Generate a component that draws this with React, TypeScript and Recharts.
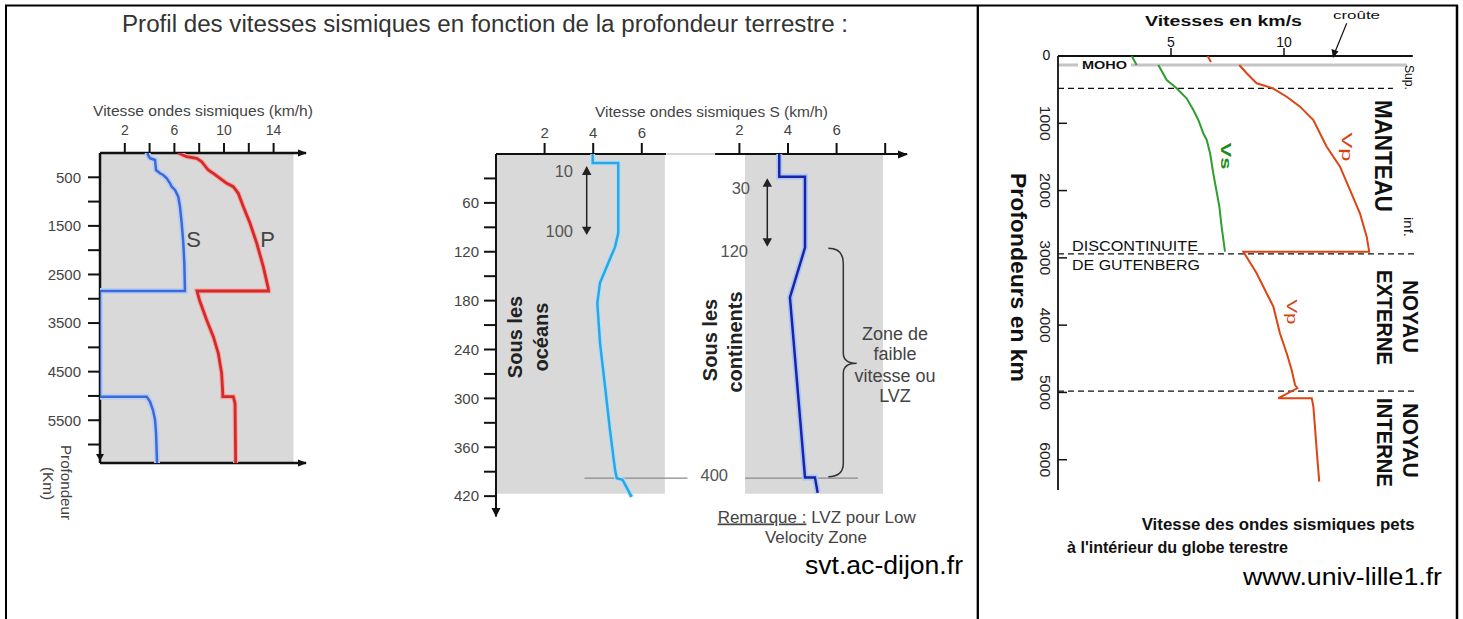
import React from 'react';
import { ScatterChart, Scatter, XAxis, YAxis, ReferenceArea, ReferenceLine } from 'recharts';

type Pt = { v: number; d: number };

// ---------- Chart 1 : profil global (svt.ac-dijon) ----------
const leftVelTicks = [2, 4, 6, 8, 10, 12, 14];
const leftVelLabels = [2, 6, 10, 14];
const leftDepthTicks = [500, 1000, 1500, 2000, 2500, 3000, 3500, 4000, 4500, 5000, 5500, 6000];
const leftDepthLabels = [500, 1500, 2500, 3500, 4500, 5500];
const leftS: Pt[] = [
  { v: 3.85, d: 0 }, { v: 3.85, d: 27 }, { v: 4.03, d: 109 }, { v: 4.44, d: 144 }, { v: 4.52, d: 350 },
  { v: 4.84, d: 418 }, { v: 5.1, d: 453 }, { v: 5.38, d: 521 }, { v: 5.65, d: 624 }, { v: 5.78, d: 694 },
  { v: 6.05, d: 761 }, { v: 6.31, d: 899 }, { v: 6.45, d: 1105 }, { v: 6.59, d: 1447 }, { v: 6.72, d: 1858 },
  { v: 6.8, d: 2270 }, { v: 6.85, d: 2820 }, { v: 6.85, d: 2840 }, { v: 0, d: 2840 }, { v: 0, d: 5015 },
  { v: 3.77, d: 5015 }, { v: 4.03, d: 5118 }, { v: 4.27, d: 5289 }, { v: 4.44, d: 5495 }, { v: 4.52, d: 5762 },
  { v: 4.6, d: 6380 },
];
const leftP: Pt[] = [
  { v: 6.31, d: 0 }, { v: 6.99, d: 76 }, { v: 7.8, d: 109 }, { v: 8.2, d: 179 }, { v: 8.73, d: 350 },
  { v: 9.14, d: 418 }, { v: 9.68, d: 521 }, { v: 10.22, d: 624 }, { v: 10.75, d: 694 }, { v: 11.15, d: 829 },
  { v: 11.56, d: 1105 }, { v: 12.1, d: 1447 }, { v: 12.64, d: 1858 }, { v: 13.17, d: 2340 }, { v: 13.57, d: 2785 },
  { v: 13.59, d: 2840 }, { v: 7.82, d: 2840 }, { v: 8.02, d: 3025 }, { v: 8.6, d: 3437 }, { v: 9.14, d: 3781 },
  { v: 9.54, d: 4122 }, { v: 9.81, d: 4534 }, { v: 9.9, d: 4945 }, { v: 9.9, d: 5015 }, { v: 10.75, d: 5015 },
  { v: 10.89, d: 5151 }, { v: 10.94, d: 6380 },
];

// ---------- Chart 2 : océans / continents ----------
const oceanVelTicks = [2, 4, 6];
const contVelTicks = [2, 4, 6, 8];
const contVelLabels = [2, 4, 6];
const lvzDepthTicks = [30, 60, 90, 120, 150, 180, 210, 240, 270, 300, 330, 360, 390, 420];
const lvzDepthLabels = [60, 120, 180, 240, 300, 360, 420];
const oceanS: Pt[] = [
  { v: 3.98, d: 0 }, { v: 3.98, d: 11 }, { v: 5.03, d: 11 }, { v: 5.03, d: 97 }, { v: 4.9, d: 114 },
  { v: 4.56, d: 138 }, { v: 4.28, d: 158 }, { v: 4.17, d: 183 }, { v: 4.28, d: 232 }, { v: 4.49, d: 286 },
  { v: 4.69, d: 339 }, { v: 4.9, d: 388 }, { v: 4.97, d: 398 }, { v: 5.21, d: 400 }, { v: 5.58, d: 421 },
];
const continentS: Pt[] = [
  { v: 3.64, d: 0 }, { v: 3.64, d: 28 }, { v: 4.7, d: 28 }, { v: 4.7, d: 115 }, { v: 4.08, d: 176 },
  { v: 4.7, d: 397 }, { v: 5.11, d: 397 }, { v: 5.22, d: 416 },
];
const lvzBase = 398;

// ---------- Chart 3 : univ-lille1 ----------
const rightVelTicks = [5, 10];
const rightDepthTicks = [0, 1000, 2000, 3000, 4000, 5000, 6000];
const rightVsCrust: Pt[] = [{ v: 3.26, d: 0 }, { v: 3.48, d: 134 }];
const rightVpCrust: Pt[] = [{ v: 6.62, d: 0 }, { v: 6.77, d: 89 }];
const rightVs: Pt[] = [
  { v: 4.44, d: 134 }, { v: 4.81, d: 357 }, { v: 5.25, d: 480 }, { v: 5.69, d: 629 }, { v: 5.99, d: 802 },
  { v: 6.21, d: 951 }, { v: 6.43, d: 1149 }, { v: 6.58, d: 1248 }, { v: 6.73, d: 1446 }, { v: 6.87, d: 1743 },
  { v: 7.14, d: 2239 }, { v: 7.24, d: 2536 }, { v: 7.39, d: 2908 },
];
const rightVp: Pt[] = [
  { v: 8.02, d: 134 }, { v: 8.35, d: 257 }, { v: 8.79, d: 406 }, { v: 9.51, d: 480 }, { v: 10.12, d: 605 },
  { v: 10.71, d: 753 }, { v: 11.3, d: 951 }, { v: 11.74, d: 1248 }, { v: 11.89, d: 1348 }, { v: 12.48, d: 1645 },
  { v: 12.92, d: 1991 }, { v: 13.36, d: 2337 }, { v: 13.66, d: 2685 }, { v: 13.77, d: 2908 }, { v: 8.2, d: 2908 },
  { v: 8.79, d: 3229 }, { v: 9.53, d: 3725 }, { v: 9.82, d: 4120 }, { v: 10.12, d: 4418 }, { v: 10.34, d: 4666 },
  { v: 10.49, d: 4889 }, { v: 10.59, d: 4938 }, { v: 9.75, d: 5086 }, { v: 11.23, d: 5086 }, { v: 11.3, d: 5211 },
  { v: 11.37, d: 5508 }, { v: 11.47, d: 5954 }, { v: 11.56, d: 6325 },
];
const mohoDepth = 134;
const mohoEnd = 15.44;
const boundaries = [
  { d: 480, end: 14.82 },
  { d: 2940, end: 15.8 },
  { d: 4980, end: 15.8 },
];

const FONT = 'Liberation Sans, Arial, Helvetica, sans-serif';
const W = 1463;
const H = 619;
const noShape = () => <g />;
const abs: React.CSSProperties = { position: 'absolute', left: 0, top: 0 };

function RotText(p: { x: number; y: number; angle: number; size: number; len?: number; weight?: string | number; fill?: string; children: React.ReactNode }) {
  return (
    <g transform={`translate(${p.x} ${p.y}) rotate(${p.angle})`}>
      <text
        x={0}
        y={0}
        textAnchor="middle"
        dominantBaseline="central"
        fontSize={p.size}
        fontWeight={p.weight ?? 'normal'}
        fill={p.fill ?? '#111'}
        fontFamily={FONT}
        textLength={p.len}
        lengthAdjust={p.len ? 'spacingAndGlyphs' : undefined}
      >
        {p.children}
      </text>
    </g>
  );
}

function Txt(p: { x: number; y: number; size: number; len?: number; anchor?: 'start' | 'middle' | 'end'; weight?: string | number; fill?: string; children: React.ReactNode }) {
  return (
    <text
      x={p.x}
      y={p.y}
      textAnchor={p.anchor ?? 'start'}
      fontSize={p.size}
      fontWeight={p.weight ?? 'normal'}
      fill={p.fill ?? '#111'}
      fontFamily={FONT}
      textLength={p.len}
      lengthAdjust={p.len ? 'spacingAndGlyphs' : undefined}
    >
      {p.children}
    </text>
  );
}

// depth ticks of the right chart: inner tick mark + label turned a quarter turn
const depthTickPts: Pt[] = rightDepthTicks.map((d) => ({ v: 0, d }));
const DepthTickShape = (props: any) => {
  const { cx, cy, payload } = props;
  const val = payload && typeof payload.d === 'number' ? payload.d : 0;
  if (cx == null || cy == null) return <g />;
  if (val === 0) {
    return (
      <text x={cx - 11.5} y={cy + 4} textAnchor="middle" fontSize={14} fill="#111" fontFamily={FONT}>
        0
      </text>
    );
  }
  return (
    <g>
      <line x1={cx} x2={cx + 9} y1={cy} y2={cy} stroke="#111" strokeWidth={1.5} />
      <g transform={`translate(${cx - 13} ${cy}) rotate(90)`}>
        <text
          x={0}
          y={0}
          textAnchor="middle"
          dominantBaseline="central"
          fontSize={14}
          fill="#222"
          fontFamily={FONT}
          textLength={35}
          lengthAdjust="spacingAndGlyphs"
        >
          {String(val)}
        </text>
      </g>
    </g>
  );
};

const grayTick = { fill: '#444', fontSize: 15, fontFamily: FONT };
const axisBlack = { stroke: '#111', strokeWidth: 2 };

function Chart1() {
  return (
    <div style={abs}>
      <ScatterChart width={W} height={H} margin={{ top: 103, left: 30, right: 1157, bottom: 126 }}>
        <XAxis
          xAxisId={0}
          type="number"
          dataKey="v"
          orientation="top"
          height={50}
          domain={[0, 16.613]}
          allowDataOverflow
          ticks={leftVelTicks}
          interval={0}
          tickSize={10}
          tickMargin={8}
          tickFormatter={(v: number) => (leftVelLabels.includes(v) ? String(v) : '')}
          tick={{ ...grayTick, fontSize: 14 }}
          axisLine={{ stroke: '#111', strokeWidth: 2.5 }}
          tickLine={axisBlack}
        />
        <XAxis
          xAxisId="b"
          type="number"
          dataKey="v"
          orientation="bottom"
          height={30}
          domain={[0, 16.613]}
          allowDataOverflow
          ticks={leftVelTicks}
          interval={0}
          tickSize={12}
          tick={false}
          axisLine={{ stroke: '#111', strokeWidth: 2.5 }}
          tickLine={axisBlack}
        />
        <YAxis
          type="number"
          dataKey="d"
          width={70}
          reversed
          domain={[0, 6380]}
          allowDataOverflow
          ticks={leftDepthTicks}
          interval={0}
          tickSize={12}
          tickMargin={7}
          tickFormatter={(v: number) => (leftDepthLabels.includes(v) ? String(v) : '')}
          tick={grayTick}
          axisLine={{ stroke: '#111', strokeWidth: 2.5 }}
          tickLine={axisBlack}
        />
        <ReferenceArea x1={0} x2={15.6} y1={0} y2={6380} fill="#d9d9d9" fillOpacity={1} stroke="none" />
        <Scatter data={leftS} isAnimationActive={false} shape={noShape} fill="#b6cff3" line={{ stroke: '#b6cff3', strokeWidth: 6 }} legendType="none" />
        <Scatter data={leftS} isAnimationActive={false} shape={noShape} fill="#3f68d6" line={{ stroke: '#3f68d6', strokeWidth: 2.5 }} legendType="none" />
        <Scatter data={leftP} isAnimationActive={false} shape={noShape} fill="#f2a8a8" line={{ stroke: '#f2a8a8', strokeWidth: 5 }} legendType="none" />
        <Scatter data={leftP} isAnimationActive={false} shape={noShape} fill="#d62a2a" line={{ stroke: '#d62a2a', strokeWidth: 2.8 }} legendType="none" />
      </ScatterChart>
    </div>
  );
}

function Chart2Ocean() {
  return (
    <div style={abs}>
      <ScatterChart width={W} height={H} margin={{ top: 104, left: 426, right: 796.9, bottom: 102.5 }}>
        <XAxis
          type="number"
          dataKey="v"
          orientation="top"
          height={50}
          domain={[0, 7]}
          allowDataOverflow
          ticks={oceanVelTicks}
          interval={0}
          tickSize={11}
          tickMargin={5}
          tick={grayTick}
          axisLine={axisBlack}
          tickLine={axisBlack}
        />
        <YAxis
          type="number"
          dataKey="d"
          width={70}
          reversed
          domain={[0, 445]}
          allowDataOverflow
          ticks={lvzDepthTicks}
          interval={0}
          tickSize={12}
          tickMargin={5}
          tickFormatter={(v: number) => (lvzDepthLabels.includes(v) ? String(v) : '')}
          tick={grayTick}
          axisLine={axisBlack}
          tickLine={axisBlack}
        />
        <ReferenceArea x1={0} x2={6.95} y1={0} y2={417} fill="#d9d9d9" fillOpacity={1} stroke="none" />
        <ReferenceLine segment={[{ x: 3.64, y: lvzBase }, { x: 7.88, y: lvzBase }]} stroke="#8a8a8a" strokeWidth={1.3} ifOverflow="visible" />
        <Scatter data={oceanS} isAnimationActive={false} shape={noShape} fill="#b4def6" line={{ stroke: '#b4def6', strokeWidth: 5 }} legendType="none" />
        <Scatter data={oceanS} isAnimationActive={false} shape={noShape} fill="#2aa6e2" line={{ stroke: '#2aa6e2', strokeWidth: 2.5 }} legendType="none" />
      </ScatterChart>
    </div>
  );
}

function Chart2Continent() {
  return (
    <div style={abs}>
      <ScatterChart width={W} height={H} margin={{ top: 104, left: 715.1, right: 555.93, bottom: 102.5 }}>
        <XAxis
          type="number"
          dataKey="v"
          orientation="top"
          height={50}
          domain={[1, 8.9]}
          allowDataOverflow
          ticks={contVelTicks}
          interval={0}
          tickSize={11}
          tickMargin={8}
          tickFormatter={(v: number) => (contVelLabels.includes(v) ? String(v) : '')}
          tick={grayTick}
          axisLine={axisBlack}
          tickLine={axisBlack}
        />
        <YAxis type="number" dataKey="d" hide reversed domain={[0, 445]} allowDataOverflow />
        <ReferenceArea x1={2.23} x2={7.91} y1={0} y2={417} fill="#d9d9d9" fillOpacity={1} stroke="none" />
        <ReferenceLine segment={[{ x: 2.23, y: lvzBase }, { x: 6.88, y: lvzBase }]} stroke="#8a8a8a" strokeWidth={1.3} ifOverflow="visible" />
        <Scatter data={continentS} isAnimationActive={false} shape={noShape} fill="#aac9f2" line={{ stroke: '#aac9f2', strokeWidth: 6 }} legendType="none" />
        <Scatter data={continentS} isAnimationActive={false} shape={noShape} fill="#1e22a8" line={{ stroke: '#1e22a8', strokeWidth: 2.5 }} legendType="none" />
      </ScatterChart>
    </div>
  );
}

function Chart3() {
  return (
    <div style={abs}>
      <ScatterChart width={W} height={H} margin={{ top: 16, left: 998, right: 50.2, bottom: 129 }}>
        <XAxis
          type="number"
          dataKey="v"
          orientation="top"
          height={40}
          domain={[0, 15.7]}
          ticks={rightVelTicks}
          interval={0}
          tickSize={8}
          tickMargin={1}
          tick={{ fill: '#111', fontSize: 14, fontFamily: FONT }}
          axisLine={{ stroke: '#111', strokeWidth: 2 }}
          tickLine={{ stroke: '#111', strokeWidth: 1.5 }}
        />
        <YAxis
          type="number"
          dataKey="d"
          width={60}
          reversed
          domain={[0, 6450]}
          ticks={rightDepthTicks}
          interval={0}
          tick={false}
          tickLine={false}
          axisLine={{ stroke: '#111', strokeWidth: 1.8 }}
        />
        <ReferenceLine segment={[{ x: 0, y: mohoDepth }, { x: mohoEnd, y: mohoDepth }]} stroke="#c4c4c4" strokeWidth={3} ifOverflow="visible" />
        {boundaries.map((b) => (
          <ReferenceLine
            key={b.d}
            segment={[{ x: 0, y: b.d }, { x: b.end, y: b.d }]}
            stroke="#111"
            strokeWidth={1.2}
            strokeDasharray="6 4"
            ifOverflow="visible"
          />
        ))}
        <Scatter data={rightVsCrust} isAnimationActive={false} shape={noShape} fill="#2e9e2e" line={{ stroke: '#2e9e2e', strokeWidth: 2 }} legendType="none" />
        <Scatter data={rightVs} isAnimationActive={false} shape={noShape} fill="#2e9e2e" line={{ stroke: '#2e9e2e', strokeWidth: 2 }} legendType="none" />
        <Scatter data={rightVpCrust} isAnimationActive={false} shape={noShape} fill="#dd4411" line={{ stroke: '#dd4411', strokeWidth: 2 }} legendType="none" />
        <Scatter data={rightVp} isAnimationActive={false} shape={noShape} fill="#dd4411" line={{ stroke: '#dd4411', strokeWidth: 2 }} legendType="none" />
        <Scatter data={depthTickPts} isAnimationActive={false} shape={DepthTickShape} fill="#111" legendType="none" />
      </ScatterChart>
    </div>
  );
}

function Overlay() {
  return (
    <svg width={W} height={H} style={{ ...abs, pointerEvents: 'none' }}>
      {/* frame */}
      <line x1={5} y1={5.5} x2={1458} y2={5.5} stroke="#000" strokeWidth={2} />
      <line x1={6} y1={5} x2={6} y2={619} stroke="#000" strokeWidth={2} />
      <line x1={1457} y1={5} x2={1457} y2={619} stroke="#000" strokeWidth={2.5} />
      <line x1={977.8} y1={5} x2={977.8} y2={619} stroke="#000" strokeWidth={2.3} />

      {/* title */}
      <Txt x={122} y={31.5} size={23.5} len={726} fill="#333">
        Profil des vitesses sismiques en fonction de la profondeur terrestre :
      </Txt>

      {/* chart 1 */}
      <Txt x={93} y={115.5} size={15} len={220} fill="#444">Vitesse ondes sismiques (km/h)</Txt>
      <Txt x={193.5} y={246.5} size={22} anchor="middle" fill="#444">S</Txt>
      <Txt x={267.5} y={246.5} size={22} anchor="middle" fill="#444">P</Txt>
      <polygon points="298,149.5 307,153 298,156.5" fill="#111" />
      <polygon points="298,459.5 307,463 298,466.5" fill="#111" />
      <polygon points="96,454 104,454 100,461" fill="#111" />
      <RotText x={66.7} y={482.5} angle={90} size={15} len={75} fill="#444">Profondeur</RotText>
      <RotText x={48} y={483.5} angle={90} size={15} len={33} fill="#444">(Km)</RotText>

      {/* chart 2 */}
      <Txt x={595} y={116.5} size={15.5} len={233} fill="#444">Vitesse ondes sismiques S (km/h)</Txt>
      <line x1={667} y1={154} x2={715} y2={154} stroke="#d4d4d4" strokeWidth={2} />
      <polygon points="491.5,508 500.5,508 496,517" fill="#111" />
      <polygon points="898,150.5 908,154.5 898,158.5" fill="#111" />
      <Txt x={573} y={177} size={16.5} anchor="end" fill="#555">10</Txt>
      <Txt x={573} y={237} size={16.5} anchor="end" fill="#555">100</Txt>
      <Txt x={750} y={194} size={16.5} anchor="end" fill="#555">30</Txt>
      <Txt x={748} y={256.5} size={16.5} anchor="end" fill="#555">120</Txt>
      <Txt x={728} y={480.5} size={16.5} anchor="end" fill="#555">400</Txt>
      <line x1={586.7} y1={172} x2={586.7} y2={230} stroke="#222" strokeWidth={1.5} />
      <polygon points="582,175 591.4,175 586.7,166" fill="#222" />
      <polygon points="582,226.7 591.4,226.7 586.7,235" fill="#222" />
      <line x1={767.3} y1={184} x2={767.3} y2={241} stroke="#222" strokeWidth={1.5} />
      <polygon points="762.6,186.7 772,186.7 767.3,178.3" fill="#222" />
      <polygon points="762.6,238.3 772,238.3 767.3,246.7" fill="#222" />
      <RotText x={514.5} y={337} angle={-90} size={20} weight="bold" fill="#222">Sous les</RotText>
      <RotText x={541} y={337} angle={-90} size={20} weight="bold" fill="#222">océans</RotText>
      <RotText x={710} y={340} angle={-90} size={20} weight="bold" fill="#222">Sous les</RotText>
      <RotText x={735} y={342} angle={-90} size={20} weight="bold" fill="#222">continents</RotText>
      <path
        d="M828.3,248.3 Q843.3,248.3 843.3,263.3 L843.3,353 Q843.3,363.3 856.7,363.3 Q843.3,363.3 843.3,373.6 L843.3,463.3 Q843.3,476.7 828.3,476.7"
        fill="none"
        stroke="#333"
        strokeWidth={1.5}
      />
      <Txt x={895} y={340} size={18} anchor="middle" fill="#444">Zone de</Txt>
      <Txt x={895} y={360} size={18} anchor="middle" fill="#444">faible</Txt>
      <Txt x={895} y={381.5} size={18} anchor="middle" fill="#444">vitesse ou</Txt>
      <Txt x={895} y={402} size={18} anchor="middle" fill="#444">LVZ</Txt>
      <text x={816.7} y={522.5} textAnchor="middle" fontSize={17} fill="#444" fontFamily={FONT}>
        <tspan style={{ textDecoration: 'underline' }}>Remarque :</tspan>
        <tspan> LVZ pour Low</tspan>
      </text>
      <Txt x={816} y={542.5} size={17} anchor="middle" fill="#444">Velocity Zone</Txt>
      <Txt x={805} y={574} size={25} len={158} fill="#000">svt.ac-dijon.fr</Txt>

      {/* chart 3 */}
      <Txt x={1145} y={25.5} size={14} weight="bold" len={157} fill="#111">Vitesses en km/s</Txt>
      <Txt x={1333} y={19} size={11} len={47} fill="#111">croûte</Txt>
      <line x1={1346.7} y1={23.3} x2={1335} y2={52} stroke="#111" strokeWidth={1.2} />
      <polygon points="1333,58 1331.5,49 1338.5,51.5" fill="#111" />
      <rect x={1078} y={60} width={53} height={10} fill="#fff" />
      <Txt x={1082} y={69} size={10} weight="bold" len={45} fill="#111">MOHO</Txt>
      <Txt x={1072} y={250.5} size={14} len={126} fill="#111">DISCONTINUITE</Txt>
      <Txt x={1072} y={270} size={14} len={128} fill="#111">DE GUTENBERG</Txt>
      <RotText x={1018} y={277.5} angle={90} size={22} weight="bold" len={209}>Profondeurs en km</RotText>
      <RotText x={1383} y={156} angle={90} size={24} weight="bold" len={112}>MANTEAU</RotText>
      <RotText x={1409} y={77.5} angle={90} size={12} len={25}>Sup.</RotText>
      <RotText x={1408} y={227} angle={90} size={12} len={20}>inf.</RotText>
      <RotText x={1410} y={316.5} angle={90} size={22} weight="bold" len={73}>NOYAU</RotText>
      <RotText x={1384} y={317.5} angle={90} size={22} weight="bold" len={95}>EXTERNE</RotText>
      <RotText x={1410} y={440.5} angle={90} size={22} weight="bold" len={75}>NOYAU</RotText>
      <RotText x={1384} y={442.5} angle={90} size={22} weight="bold" len={89}>INTERNE</RotText>
      <RotText x={1226} y={156} angle={90} size={15} weight="bold" len={27} fill="#1a8a1a">Vs</RotText>
      <RotText x={1347} y={147} angle={90} size={15} len={29} fill="#d84010">Vp</RotText>
      <RotText x={1292} y={312} angle={90} size={15} len={25} fill="#d84010">Vp</RotText>
      <Txt x={1141.7} y={530} size={16} weight="bold" len={273} fill="#111">Vitesse des ondes sismiques pets</Txt>
      <Txt x={1067} y={553} size={16} weight="bold" len={221} fill="#111">à l'intérieur du globe terestre</Txt>
      <Txt x={1243} y={585} size={23} len={199} fill="#000">www.univ-lille1.fr</Txt>
    </svg>
  );
}

export default function App() {
  return (
    <div style={{ position: 'absolute', left: 0, top: 0, width: W, height: H, background: '#fff', overflow: 'hidden' }}>
      <Chart1 />
      <Chart2Ocean />
      <Chart2Continent />
      <Chart3 />
      <Overlay />
    </div>
  );
}
